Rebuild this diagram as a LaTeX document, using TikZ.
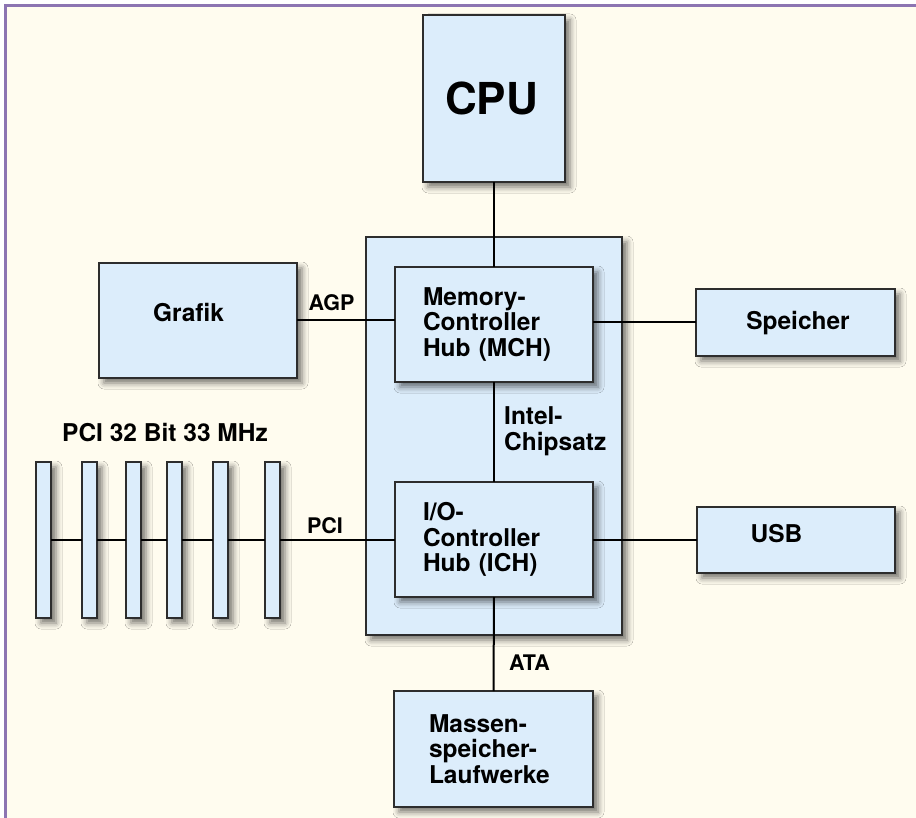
\documentclass[tikz,border=0pt]{standalone}
\usepackage{fontspec}
\setmainfont{TeX Gyre Heros}
\usetikzlibrary{shadows.blur}
\definecolor{paper}{RGB}{255,252,239}
\definecolor{frame}{RGB}{140,116,178}
\definecolor{boxfill}{RGB}{220,237,251}
\definecolor{boxline}{RGB}{45,45,45}
\begin{document}
\begin{tikzpicture}[x=1pt,y=-1pt,
  box/.style={draw=boxline, line width=1.4pt, fill=boxfill, inner sep=0pt, outer sep=0pt,
    anchor=north west,
    blur shadow={shadow xshift=5pt, shadow yshift=-5pt, shadow blur radius=6pt, shadow opacity=55}},
  wire/.style={line width=2pt, black},
  txt/.style={font=\bfseries\fontsize{24.5}{25.5}\selectfont, inner sep=0pt},
  tag/.style={font=\bfseries\fontsize{21.5}{23}\selectfont, inner sep=0pt},
  multi/.style={txt, align=left}]

% page and frame
\useasboundingbox (0,0) rectangle (916,818);
\fill[white] (0,0) rectangle (916,818);
\fill[paper] (4,4) rectangle (916,818);
\draw[frame, line width=3pt] (5.5,818) -- (5.5,5.5) -- (916,5.5);

% chipset enclosure
\node[box, minimum width=256pt, minimum height=398pt] (chipset) at (366,237) {};

% processor
\node[box, minimum width=142pt, minimum height=167pt] (cpu) at (423,15) {};
\node[txt, font=\bfseries\fontsize{44}{48}\selectfont, anchor=base] (cpu-t) at (491.5,115) {CPU};

% hubs
\node[box, multi, minimum width=198pt, minimum height=115pt, text width=142pt, inner xsep=28pt] (mch) at (395,267) {Memory-\\Controller\\Hub (MCH)};
\node[box, multi, minimum width=198pt, minimum height=115pt, text width=142pt, inner xsep=28pt] (ich) at (395,482) {I/O-\\Controller\\Hub (ICH)};

% peripherals
\node[box, minimum width=198pt, minimum height=115pt] (grafik) at (99,263) {};
\node[txt, anchor=base] (grafik-t) at (188.5,321.7) {Grafik};

\node[box, minimum width=199pt, minimum height=67pt] (speicher) at (696,289) {};
\node[txt, anchor=base] (speicher-t) at (798,330) {Speicher};

\node[box, minimum width=198pt, minimum height=66pt] (usb) at (697,507) {};
\node[txt, anchor=base] (usb-t) at (776.5,542) {USB};

\node[box, multi, minimum width=199pt, minimum height=116pt, text width=129pt, inner xsep=35pt] (mass) at (394,691) {Massen-\\speicher-\\Laufwerke};

% PCI slots
\foreach \i/\x in {1/36, 2/82, 3/126, 4/167, 5/213, 6/265}
  \node[box, minimum width=15pt, minimum height=156pt] (s\i) at (\x,462) {};
\node[txt, anchor=base] (pci-title) at (165,441) {PCI 32 Bit 33 MHz};

% chipset caption
\node[multi, anchor=west] (intel) at (504,431.3) {Intel-\\Chipsatz};

% connections
\draw[wire] (cpu.south) -- (mch.north);
\draw[wire] (mch.south) -- (ich.north);
\draw[wire] (ich.south) -- (mass.north);
\draw[wire] (grafik.east) -- (grafik.east -| mch.west);
\draw[wire] (mch.east |- speicher.west) -- (speicher.west);
\draw[wire] (ich.east |- usb.west) -- (usb.west);
\foreach \a/\b in {1/2, 2/3, 3/4, 4/5, 5/6}
  \draw[wire] (s\a.east) -- (s\b.west);
\draw[wire] (s6.east) -- (s6.east -| ich.west);

% bus labels
\node[tag, anchor=base] (agp) at (331.5,311) {AGP};
\node[tag, anchor=base] (pci) at (325,533) {PCI};
\node[tag, anchor=base] (ata) at (529.5,670) {ATA};
\end{tikzpicture}
\end{document}
